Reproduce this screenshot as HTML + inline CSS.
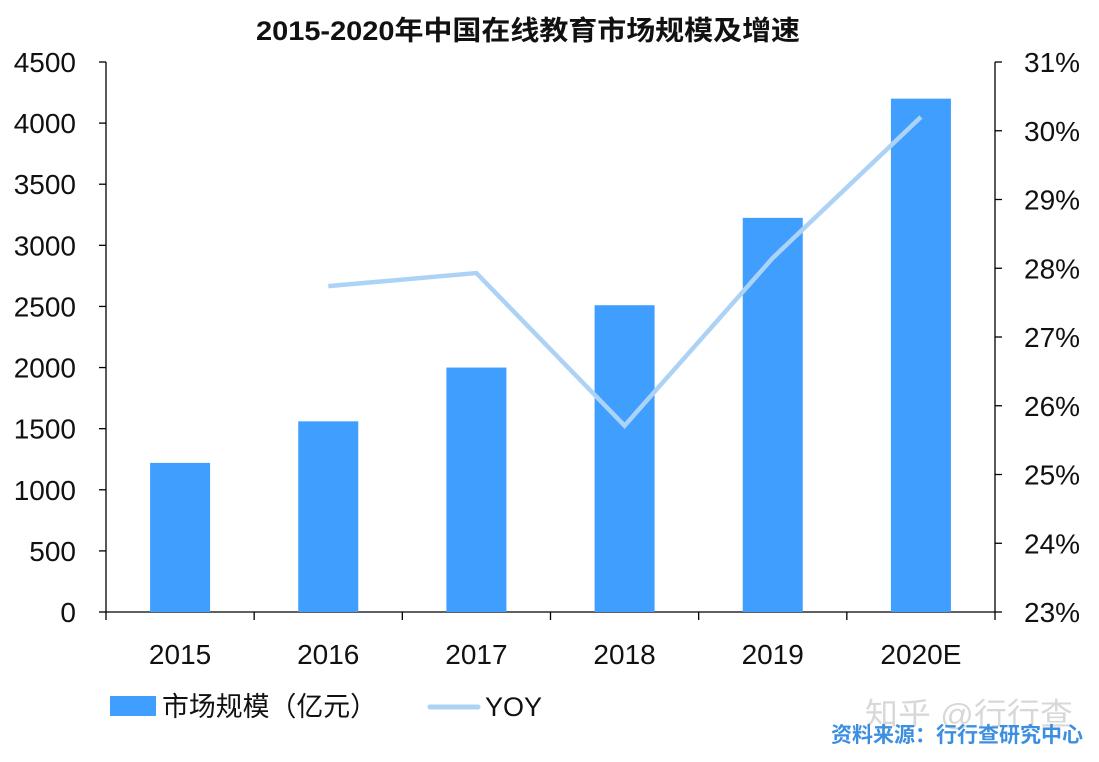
<!DOCTYPE html>
<html><head><meta charset="utf-8"><style>
html,body{margin:0;padding:0;background:#fff;}
svg{display:block;font-family:"Liberation Sans","Noto Sans CJK SC",sans-serif;}
</style></head><body>
<svg id="chart" width="1099" height="762" viewBox="0 0 1099 762" xmlns="http://www.w3.org/2000/svg">
<text x="528" y="40" text-anchor="middle" font-size="27" font-weight="bold" fill="#111" textLength="544" lengthAdjust="spacingAndGlyphs">2015-2020年中国在线教育市场规模及增速</text>
<g id="axes"></g>
<g id="bars"></g>
<g id="line"></g>
<g>
<rect x="110" y="696" width="46" height="20" fill="#409eff"/>
<text x="162" y="716" font-size="27" fill="#111" textLength="215" lengthAdjust="spacingAndGlyphs">市场规模（亿元）</text>
<line x1="430" y1="707" x2="478" y2="707" stroke="#acd3f5" stroke-width="5" stroke-linecap="round"/>
<text x="485" y="716" font-size="27" fill="#111">YOY</text>
</g>
<text x="865" y="725" font-size="31" fill="#d8d8d8" textLength="208" lengthAdjust="spacingAndGlyphs">知乎 @行行查</text>
<text x="1083" y="742" text-anchor="end" font-size="21" font-weight="bold" fill="#3c8fe0">资料来源：行行查研究中心</text>
</svg>
<script>
const categories=["2015","2016","2017","2018","2019","2020E"];
const marketSize=[1220,1560,2000,2510,3225,4200];
const yoy=[null,27.74,27.93,25.71,28.15,30.2];
const leftTicks=[0,500,1000,1500,2000,2500,3000,3500,4000,4500];
const rightTicks=[23,24,25,26,27,28,29,30,31];
const NS="http://www.w3.org/2000/svg";
const x0=106,x1=995,yb=612,yt=62;
const bw=(x1-x0)/categories.length;
const yL=v=>yb-(v-0)/(4500-0)*(yb-yt);
const yR=v=>yb-(v-23)/(31-23)*(yb-yt);
const xc=i=>x0+bw*(i+0.5);
function mk(tag,attrs,parent,text){const e=document.createElementNS(NS,tag);for(const k in attrs)e.setAttribute(k,attrs[k]);if(text!==undefined)e.textContent=text;parent.appendChild(e);return e;}
const axes=document.getElementById('axes');
let e=mk('line',{x1:x0,y1:yt,x2:x0,y2:yb,stroke:'#000','stroke-width':1.3},axes);


e=mk('line',{x1:x1,y1:yt,x2:x1,y2:yb,stroke:'#000','stroke-width':1.3},axes);


e=mk('line',{x1:x0,y1:yb,x2:x1,y2:yb,stroke:'#000','stroke-width':1.3},axes);


leftTicks.forEach(v=>{const y=yL(v);
mk('line',{x1:x0-7,y1:y,x2:x0,y2:y,stroke:'#000','stroke-width':1.3},axes);
const t=mk('text',{x:76,y:y+10,'text-anchor':'end','font-size':28,fill:'#111'},axes,String(v));

});
rightTicks.forEach(v=>{const y=yR(v);
mk('line',{x1:x1,y1:y,x2:x1+7,y2:y,stroke:'#000','stroke-width':1.3},axes);
const t=mk('text',{x:1024,y:y+10,'font-size':28,fill:'#111'},axes,v+'%');

});
for(let i=0;i<=categories.length;i++){mk('line',{x1:x0+bw*i,y1:yb,x2:x0+bw*i,y2:yb+8,stroke:'#000','stroke-width':1.3},axes);}
const bars=document.getElementById('bars');
categories.forEach((c,i)=>{
const t=mk('text',{x:xc(i),y:664,'text-anchor':'middle','font-size':28,fill:'#111'},axes,c);


const r=mk('rect',{x:xc(i)-30,y:yL(marketSize[i]),width:60,height:yb-yL(marketSize[i]),fill:'#409eff'},bars);

});
const pts=[];yoy.forEach((v,i)=>{if(v!==null)pts.push(xc(i)+','+yR(v));});
const pl=mk('polyline',{points:pts.join(' '),fill:'none',stroke:'#acd3f5','stroke-width':4.5,'stroke-linejoin':'miter'},document.getElementById('line'));


</script>
</body></html>
